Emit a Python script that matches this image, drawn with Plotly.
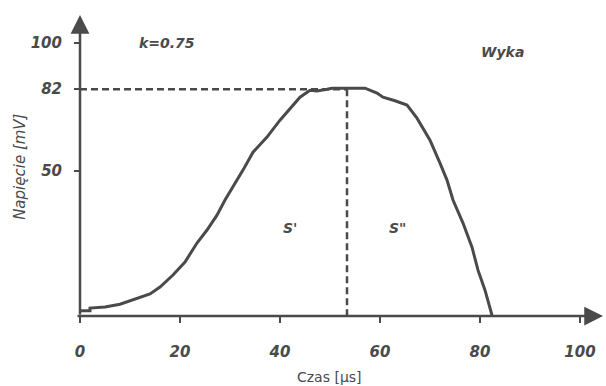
import plotly.graph_objects as go

# Curve readings: time [µs] and voltage [mV]
time_us = [0, 2, 2, 5, 8, 11.4, 14, 16, 18.6, 21, 23.4, 25.4, 27.4, 29, 30.6, 32.6,
           34.6, 37.4, 40, 42, 44, 46, 47.4, 49.4, 50.4, 53.4, 57, 59.4, 60.6, 63,
           65.4, 67.4, 70, 72, 73.4, 74.6, 76.6, 78.4, 79.6, 81, 81.4, 82, 82.4]
voltage_mv = [-4.5, -4.5, -3.5, -3.1, -2.0, 0.4, 2.0, 4.7, 9.4, 14.5, 21.9, 27.0, 32.8,
              38.7, 43.8, 50.4, 57.4, 63.3, 69.9, 74.6, 78.9, 81.6, 81.3, 82.0, 82.4,
              82.4, 82.4, 80.5, 78.9, 77.5, 75.8, 70.7, 62.1, 53.1, 46.5, 38.7, 29.7,
              20.3, 11.3, 3.5, 0.4, -3.1, -6.3]

peak_t = 53.4
peak_v = 82

x_ticks = [0, 20, 40, 60, 80, 100]
y_ticks = [50, 82, 100]

x_range = [0, 104.6]
y_range = [-6.6, 111.0]

ink = "#4a4a4a"
font_fam = "DejaVu Sans, Verdana, sans-serif"

fig = go.Figure()

# dashed guide lines to the peak
fig.add_trace(go.Scatter(x=[x_range[0], peak_t], y=[peak_v, peak_v], mode="lines",
                         line=dict(color=ink, width=2.5, dash="7px,4px"),
                         hoverinfo="skip", showlegend=False, cliponaxis=False))
fig.add_trace(go.Scatter(x=[peak_t, peak_t], y=[peak_v, y_range[0]], mode="lines",
                         line=dict(color=ink, width=2.5, dash="7px,4px"),
                         hoverinfo="skip", showlegend=False, cliponaxis=False))

# measured curve
fig.add_trace(go.Scatter(x=time_us, y=voltage_mv, mode="lines",
                         line=dict(color=ink, width=3),
                         showlegend=False, cliponaxis=False))

# axes with arrows
fig.add_annotation(x=x_range[1], y=y_range[0], ax=-0.8, ay=y_range[0],
                   xref="x", yref="y", axref="x", ayref="y", text="",
                   showarrow=True, arrowhead=2, arrowsize=1.5, arrowwidth=2.5,
                   arrowcolor=ink)
fig.add_annotation(x=0, y=y_range[1], ax=0, ay=y_range[0], xref="x", yref="y",
                   axref="x", ayref="y", text="", showarrow=True, arrowhead=2,
                   arrowsize=1.5, arrowwidth=2.5, arrowcolor=ink)

def label(text, x, y, size=14, italic=True, bold=True, angle=0):
    fig.add_annotation(x=x, y=y, xref="paper", yref="paper", text=text,
                       showarrow=False, textangle=angle,
                       font=dict(family=font_fam, size=size, color=ink,
                                 style="italic" if italic else "normal",
                                 weight="bold" if bold else "normal"),
                       xanchor="center", yanchor="middle")

label("k=0.75", 0.166, 0.907, size=14)
label("Wyka", 0.807, 0.877, size=14)
label("S'", 0.4015, 0.292, size=14)
label('S"', 0.608, 0.292, size=14)
label("Czas [µs]", 0.478, -0.203, size=14, italic=False, bold=False)
label("Napięcie [mV]", -0.115, 0.495, size=15, bold=False, angle=-90)

tickfont = dict(family=font_fam, size=15, color=ink, style="italic", weight="bold")

fig.update_xaxes(range=x_range, tickvals=x_ticks, ticks="outside", ticklen=6,
                 tickwidth=2, tickcolor=ink, showgrid=False, zeroline=False,
                 showline=False, tickfont=tickfont, ticklabelstandoff=16)
fig.update_yaxes(range=y_range, tickvals=y_ticks, ticks="outside", ticklen=5,
                 tickwidth=2, tickcolor=ink, showgrid=False, zeroline=False,
                 showline=False, tickfont=tickfont, ticklabelstandoff=9)

fig.update_layout(width=606, height=386, margin=dict(l=80, r=3, t=15, b=70),
                  plot_bgcolor="white", paper_bgcolor="white")

fig.write_html("out.html")
